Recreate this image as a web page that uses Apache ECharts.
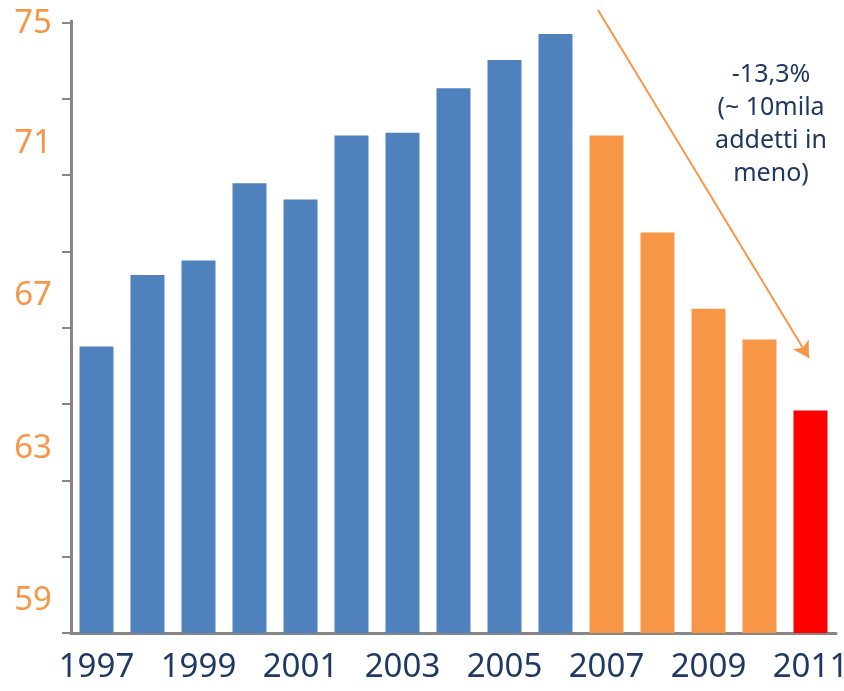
<!DOCTYPE html>
<html>
<head>
<meta charset="utf-8">
<script src="https://cdn.jsdelivr.net/npm/echarts@6/dist/echarts.min.js"></script>
<style>
  html, body { margin: 0; padding: 0; background: #fff; }
  #chart { width: 844px; height: 691px; }
</style>
</head>
<body>
<div id="chart"></div>
<script>
// Dati: addetti (migliaia) 1997-2011
const anni = ['1997', '1998', '1999', '2000', '2001', '2002', '2003', '2004',
              '2005', '2006', '2007', '2008', '2009', '2010', '2011'];
const addetti = [65.67, 67.54, 67.92, 69.95, 69.52, 71.20, 71.27, 72.44,
                 73.18, 73.86, 71.20, 68.66, 66.66, 65.85, 63.99];
const coloriBarre = ['#4f81bd', '#4f81bd', '#4f81bd', '#4f81bd', '#4f81bd',
                     '#4f81bd', '#4f81bd', '#4f81bd', '#4f81bd', '#4f81bd',
                     '#f79646', '#f79646', '#f79646', '#f79646', '#ff0000'];

// Asse Y: tacche ogni 2 a partire dal minimo, etichette come nell'originale
const yMin = 58.16;
const yMax = 74.2;
const yTacche = [58.16, 60.16, 62.16, 64.16, 66.16, 68.16, 70.16, 72.16, 74.16];
const yEtichetteValori = [59, 63, 67, 71, 74.12];
const yEtichette = ['59', '63', '67', '71', '75'];

const nota = '-13,3%\n(~ 10mila\naddetti in\nmeno)';

const myChart = echarts.init(document.getElementById('chart'));

const option = {
    animation: false,
    grid: {
        left: 71,
        right: 8,
        top: 21,
        bottom: 58,
        containLabel: false,
        outerBoundsMode: 'none'
    },
    xAxis: {
        type: 'category',
        data: anni,
        axisLine: {
            lineStyle: { color: '#868686', width: 3 }
        },
        axisTick: {
            length: 10,
            lineStyle: { color: '#868686', width: 2 }
        },
        axisLabel: {
            interval: 1,
            margin: 18,
            color: '#1f3864',
            fontFamily: 'Noto Sans',
            fontSize: 33,
            lineHeight: 33
        }
    },
    yAxis: {
        type: 'value',
        min: yMin,
        max: yMax,
        splitLine: { show: false },
        axisLine: {
            show: true,
            lineStyle: { color: '#868686', width: 3 }
        },
        axisTick: {
            show: true,
            length: 9,
            customValues: yTacche,
            lineStyle: { color: '#868686', width: 2 }
        },
        axisLabel: {
            customValues: yEtichetteValori,
            margin: 19,
            padding: [8, 0, 0, 0],
            color: '#f79646',
            fontFamily: 'Noto Sans',
            fontSize: 33,
            formatter: function (value) {
                const i = yEtichetteValori.indexOf(value);
                return i >= 0 ? yEtichette[i] : '';
            }
        }
    },
    series: [
        {
            type: 'bar',
            barWidth: 34,
            data: addetti.map((v, i) => ({
                value: v,
                itemStyle: { color: coloriBarre[i] }
            })),
            markLine: {
                silent: true,
                symbol: ['none', 'arrow'],
                symbolSize: [14, 16],
                lineStyle: { color: '#f79646', width: 2, type: 'solid' },
                label: { show: false },
                data: [
                    [{ x: 598, y: 10 }, { x: 809, y: 358 }]
                ]
            }
        }
    ],
    graphic: [
        {
            type: 'text',
            x: 771,
            y: 58,
            style: {
                text: nota,
                textAlign: 'center',
                textVerticalAlign: 'top',
                fill: '#1f3864',
                font: '25px "Noto Sans"',
                lineHeight: 33
            }
        }
    ]
};

myChart.setOption(option);

window.addEventListener('resize', function () {
    myChart.resize();
});
</script>
</body>
</html>
